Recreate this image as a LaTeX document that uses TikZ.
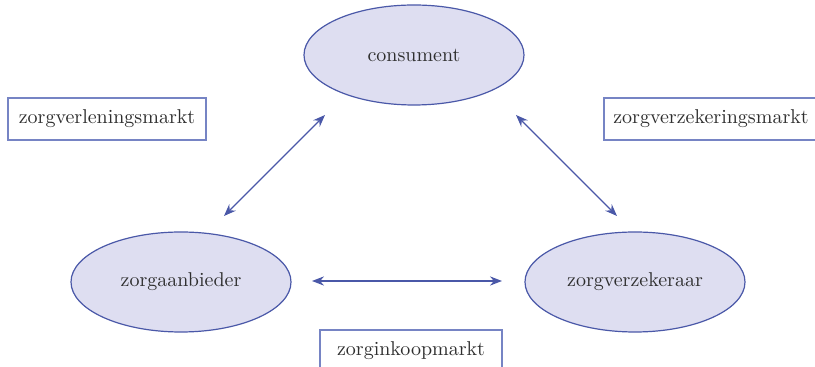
\documentclass[tikz,border=0pt]{standalone}
\usepackage{xcolor}
\usetikzlibrary{arrows.meta,shapes,calc,positioning}
\definecolor{rand}{HTML}{4A58A8}
\definecolor{vulling}{HTML}{DEDEF1}
\definecolor{kader}{HTML}{7684C4}
\definecolor{tekst}{HTML}{2E2E2E}

\begin{document}
\begin{tikzpicture}[x=0.5pt,y=-0.5pt,
		partij/.style={ellipse, draw=rand, line width=0.6pt, fill=vulling, minimum width=110pt, minimum height=50pt, inner sep=0pt, text=tekst},
		markt/.style={rectangle, draw=kader, line width=0.7pt, fill=white, minimum height=21pt, inner sep=0pt, text=tekst},
		pijl/.style={draw=rand, line width=0.6pt, {Stealth[length=6pt,width=4.6pt]}-{Stealth[length=6pt,width=4.6pt]}}]
			\useasboundingbox (0,0) rectangle (815,367);
			\begin{scope}
			\clip (0,0) rectangle (815,367);
			\node [partij] (consument) at (414,55) {consument};
			\node [partij] (aanbieder) at (181,282) {zorgaanbieder};
			\node [partij] (verzekeraar) at (635,282) {zorgverzekeraar};
			\node [markt, minimum width=99pt] (verlening) at (107,119) {zorgverleningsmarkt};
			\node [markt, minimum width=107pt] (verzekering) at (711,119) {zorgverzekeringsmarkt};
			\node [markt, minimum width=91pt] (inkoop) at (411,351) {zorginkoopmarkt};
			\end{scope}
			% eindpunten van de pijlen
			\coordinate (va) at (224,216);
			\coordinate (vc) at (325,115);
			\coordinate (zc) at (516,115);
			\coordinate (zv) at (617,216);
			\coordinate (ia) at (312,281);
			\coordinate (iv) at (502,281);
			\draw [pijl] (va) -- (vc);
			\draw [pijl] (zc) -- (zv);
			\draw [pijl] (ia) -- (iv);
		\end{tikzpicture}
\end{document}
